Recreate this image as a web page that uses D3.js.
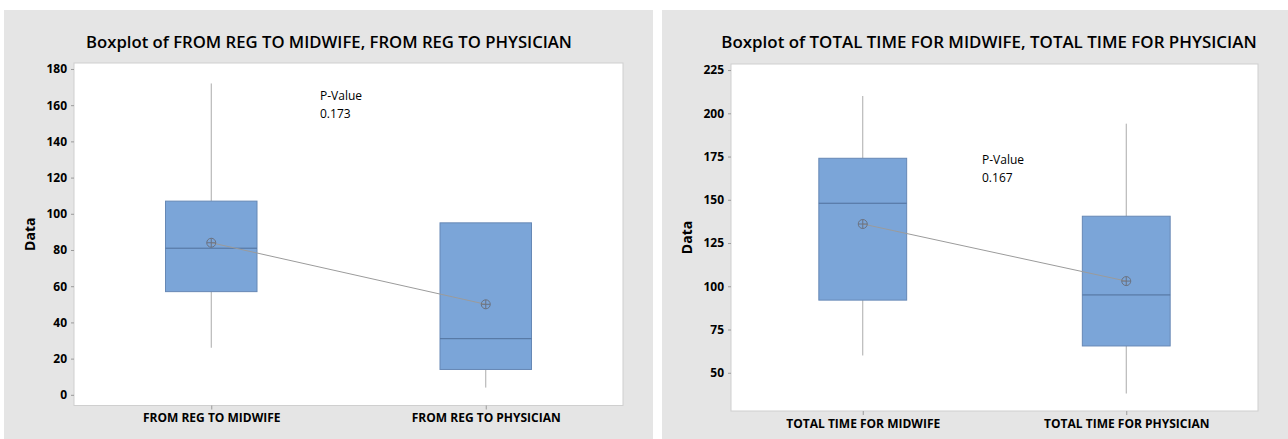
<!DOCTYPE html>
<html>
<head>
<meta charset="utf-8">
<script src="https://cdn.jsdelivr.net/npm/d3@7"></script>
<style>
  html, body { margin: 0; padding: 0; background: #ffffff; }
  svg { display: block; }
  text { font-family: "Open Sans", "Noto Sans", sans-serif; fill: #000; }
</style>
</head>
<body>
<svg id="chart" width="1288" height="439"></svg>
<script>
// ---- Panel 1: time from registration ----
const regCategories = ["FROM REG TO MIDWIFE", "FROM REG TO PHYSICIAN"];
const regMin    = [26, 4];
const regQ1     = [57, 14];
const regMedian = [81, 31];
const regQ3     = [107, 95];
const regMax    = [172, 95];
const regMean   = [84, 50];
const regTicks  = [0, 20, 40, 60, 80, 100, 120, 140, 160, 180];
const regPValue = "0.173";

// ---- Panel 2: total time ----
const totCategories = ["TOTAL TIME FOR MIDWIFE", "TOTAL TIME FOR PHYSICIAN"];
const totMin    = [60, 38];
const totQ1     = [92, 65.5];
const totMedian = [148, 95];
const totQ3     = [174, 140.5];
const totMax    = [210, 194];
const totMean   = [136, 103];
const totTicks  = [50, 75, 100, 125, 150, 175, 200, 225];
const totPValue = "0.167";

const svg = d3.select("#chart");

function fitText(sel, width, startSize) {
  let size = startSize;
  sel.style("font-size", size + "px");
  const w = sel.node().getComputedTextLength();
  if (w > 0) {
    size = size * width / w;
    sel.style("font-size", size + "px");
  }
}

function drawPanel(cfg) {
  const g = svg.append("g");

  // grey panel background
  g.append("rect")
    .attr("x", cfg.panel[0]).attr("y", cfg.panel[1])
    .attr("width", cfg.panel[2]).attr("height", cfg.panel[3])
    .attr("fill", "#e5e5e5");

  const x = d3.scalePoint().domain(cfg.categories)
    .range([cfg.plot.left, cfg.plot.right]).padding(0.5);
  const y = d3.scaleLinear().domain(cfg.yDomain)
    .range([cfg.plot.bottom, cfg.plot.top]);

  // white data region
  g.append("rect")
    .attr("x", cfg.plot.left).attr("y", cfg.plot.top)
    .attr("width", cfg.plot.right - cfg.plot.left)
    .attr("height", cfg.plot.bottom - cfg.plot.top)
    .attr("fill", "#ffffff")
    .attr("stroke", "#cfcfcf").attr("stroke-width", 1);

  // title
  const title = g.append("text")
    .attr("x", cfg.titleX).attr("y", 48)
    .attr("text-anchor", "middle")
    .style("font-weight", 600)
    .text(cfg.title);
  fitText(title, cfg.titleWidth, 16);

  // y axis
  const yAxis = g.append("g")
    .attr("transform", `translate(${cfg.plot.left},0)`)
    .call(d3.axisLeft(y).tickValues(cfg.ticks).tickSize(3).tickPadding(4));
  yAxis.select(".domain").remove();
  yAxis.selectAll(".tick line").attr("stroke", "#9a9a9a");
  yAxis.selectAll(".tick text")
    .style("font-family", "'Open Sans', sans-serif")
    .style("font-size", "12px").style("font-weight", 700).attr("fill", "#000");

  // x axis
  const xAxis = g.append("g")
    .attr("transform", `translate(0,${cfg.plot.bottom})`)
    .call(d3.axisBottom(x).tickSize(4).tickPadding(4));
  xAxis.select(".domain").remove();
  xAxis.selectAll(".tick line").attr("stroke", "#9a9a9a");
  xAxis.selectAll(".tick text")
    .style("font-family", "'Open Sans', sans-serif")
    .style("font-size", "12px").style("font-weight", 700).attr("fill", "#000");

  // y axis title
  g.append("text")
    .attr("transform", `translate(${cfg.yTitleX},${(cfg.plot.top + cfg.plot.bottom) / 2}) rotate(-90)`)
    .attr("text-anchor", "middle")
    .style("font-size", "14px").style("font-weight", 700)
    .text("Data");

  const step = x.step();
  const bw = step / 3;

  const rows = cfg.categories.map((c, i) => ({
    c, min: cfg.min[i], q1: cfg.q1[i], med: cfg.median[i],
    q3: cfg.q3[i], max: cfg.max[i], mean: cfg.mean[i]
  }));

  // whiskers
  g.selectAll(".wlo").data(rows).join("line")
    .attr("x1", d => x(d.c)).attr("x2", d => x(d.c))
    .attr("y1", d => y(d.q1)).attr("y2", d => y(d.min))
    .attr("stroke", "#ababab").attr("stroke-width", 1);
  g.selectAll(".whi").data(rows).join("line")
    .attr("x1", d => x(d.c)).attr("x2", d => x(d.c))
    .attr("y1", d => y(d.q3)).attr("y2", d => y(d.max))
    .attr("stroke", "#ababab").attr("stroke-width", 1);

  // boxes
  g.selectAll(".box").data(rows).join("rect")
    .attr("x", d => x(d.c) - bw / 2).attr("width", bw)
    .attr("y", d => y(d.q3)).attr("height", d => y(d.q1) - y(d.q3))
    .attr("fill", "#7ba5d8").attr("stroke", "#6688b5").attr("stroke-width", 1);

  // medians
  g.selectAll(".med").data(rows).join("line")
    .attr("x1", d => x(d.c) - bw / 2).attr("x2", d => x(d.c) + bw / 2)
    .attr("y1", d => y(d.med)).attr("y2", d => y(d.med))
    .attr("stroke", "#50709b").attr("stroke-width", 1);

  // mean connect line
  g.append("path")
    .datum(rows)
    .attr("d", d3.line().x(d => x(d.c)).y(d => y(d.mean)))
    .attr("fill", "none").attr("stroke", "#9b9b9b").attr("stroke-width", 1);

  // mean symbols (circle with cross)
  const ms = g.selectAll(".mean").data(rows).join("g")
    .attr("transform", d => `translate(${x(d.c)},${y(d.mean)})`);
  ms.append("circle").attr("r", 4.5)
    .attr("fill", "none").attr("stroke", "#6b7280").attr("stroke-width", 1);
  ms.append("line").attr("x1", -4.5).attr("x2", 4.5)
    .attr("stroke", "#6b7280").attr("stroke-width", 1);
  ms.append("line").attr("y1", -4.5).attr("y2", 4.5)
    .attr("stroke", "#6b7280").attr("stroke-width", 1);

  // p-value annotation
  const pv = g.append("text")
    .attr("x", cfg.pX).attr("y", cfg.pY)
    .style("font-size", "12px");
  pv.append("tspan").attr("x", cfg.pX).text("P-Value");
  pv.append("tspan").attr("x", cfg.pX).attr("dy", 18).text(cfg.pValue);
}

drawPanel({
  panel: [4, 10, 649, 429],
  plot: { left: 74, right: 623, top: 63, bottom: 405.5 },
  yDomain: [-5.9, 183.3],
  title: "Boxplot of FROM REG TO MIDWIFE, FROM REG TO PHYSICIAN",
  titleX: 329, titleWidth: 486,
  yTitleX: 35,
  categories: regCategories,
  min: regMin, q1: regQ1, median: regMedian, q3: regQ3, max: regMax, mean: regMean,
  ticks: regTicks,
  pX: 320, pY: 100, pValue: regPValue
});

drawPanel({
  panel: [662, 10, 626, 429],
  plot: { left: 731, right: 1258, top: 64, bottom: 411 },
  yDomain: [27.9, 228.5],
  title: "Boxplot of TOTAL TIME FOR MIDWIFE, TOTAL TIME FOR PHYSICIAN",
  titleX: 989, titleWidth: 536,
  yTitleX: 692,
  categories: totCategories,
  min: totMin, q1: totQ1, median: totMedian, q3: totQ3, max: totMax, mean: totMean,
  ticks: totTicks,
  pX: 982, pY: 164, pValue: totPValue
});
</script>
</body>
</html>
